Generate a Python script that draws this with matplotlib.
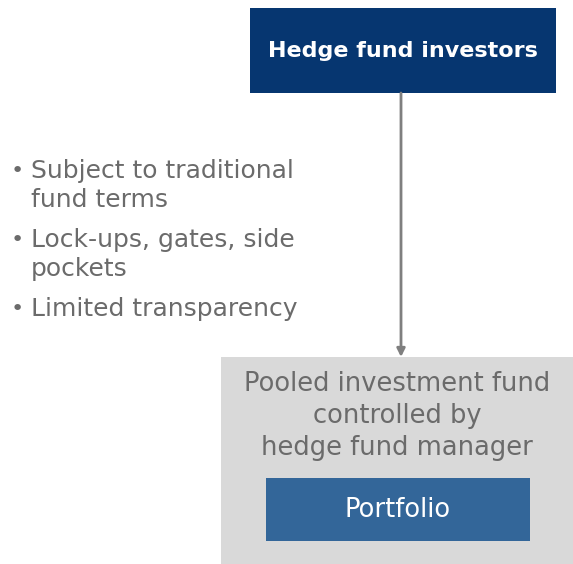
import matplotlib
matplotlib.use("Agg")
import matplotlib.pyplot as plt
from matplotlib.patches import Rectangle, FancyArrowPatch

W, H = 573, 564

top_label = "Hedge fund investors"
fund_lines = ["Pooled investment fund", "controlled by", "hedge fund manager"]
portfolio_label = "Portfolio"
bullets = [["Subject to traditional", "fund terms"],
           ["Lock-ups, gates, side", "pockets"],
           ["Limited transparency"]]

NAVY = "#063670"
BLUE = "#336699"
LIGHT = "#D9D9D9"
TEXT = "#6B6B6B"
ARROW = "#7F7F7F"

plt.rcParams["font.family"] = ["DejaVu Sans"]

fig = plt.figure(figsize=(W / 100, H / 100), dpi=100)
ax = fig.add_axes([0, 0, 1, 1])
ax.set_xlim(0, W)
ax.set_ylim(H, 0)
ax.axis("off")

# top box
ax.add_patch(Rectangle((250, 8), 306, 85, color=NAVY, lw=0))
ax.text(403, 51, top_label, color="white", fontsize=16, fontweight="semibold",
        ha="center", va="center")

# arrow
ax.add_patch(FancyArrowPatch((401, 93), (401, 357), arrowstyle="-|>",
                             mutation_scale=12, color=ARROW, lw=2,
                             shrinkA=0, shrinkB=0))

# grey fund box
ax.add_patch(Rectangle((221, 357), 352, 207, color=LIGHT, lw=0))
for i, line in enumerate(fund_lines):
    ax.text(397, 384 + i * 32, line, color=TEXT, fontsize=18.5,
            ha="center", va="center")

# portfolio box
ax.add_patch(Rectangle((266, 478), 264, 63, color=BLUE, lw=0))
ax.text(398, 510, portfolio_label, color="white", fontsize=18.5,
        ha="center", va="center")

# bullet list
y = 171
for item in bullets:
    ax.text(11, y, "\u2022", color=TEXT, fontsize=16, ha="left", va="center")
    for line in item:
        ax.text(31, y, line, color=TEXT, fontsize=18, ha="left", va="center")
        y += 29
    y += 11

fig.savefig("out.png", dpi=100)
